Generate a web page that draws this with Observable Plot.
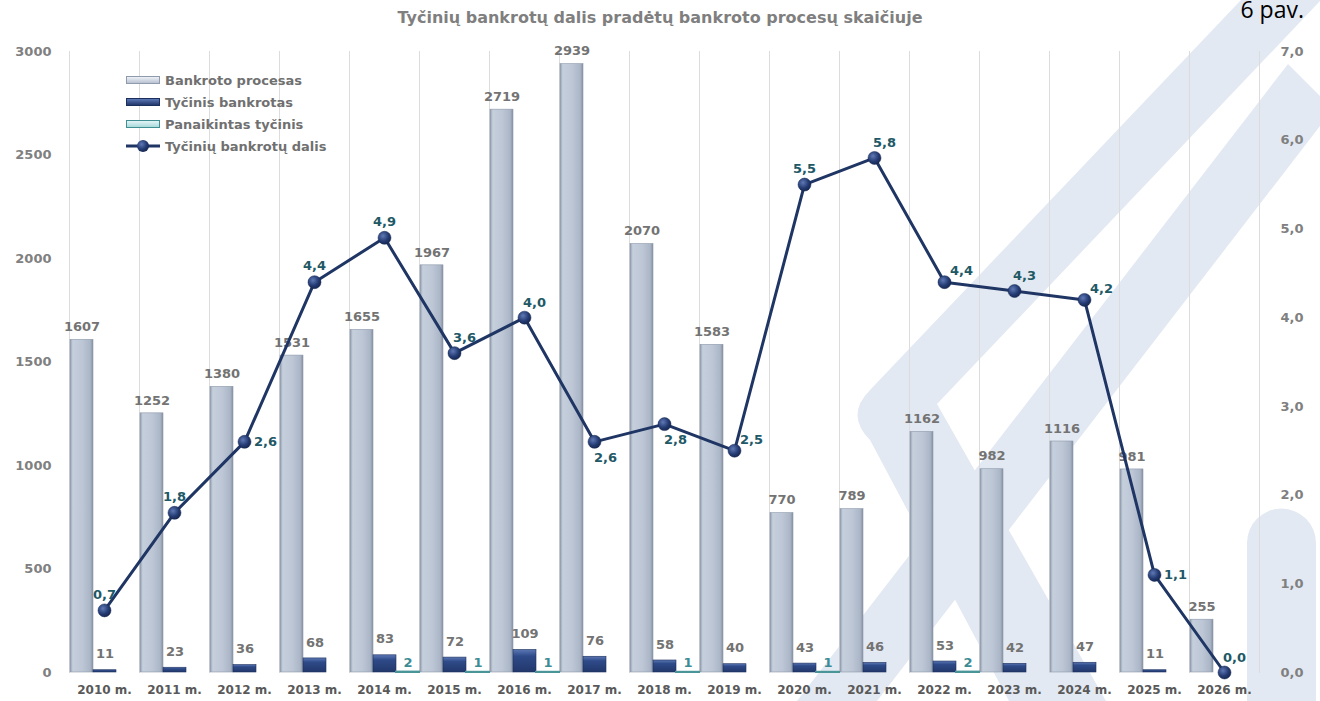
<!DOCTYPE html>
<html><head><meta charset="utf-8">
<script src="https://cdn.jsdelivr.net/npm/d3@7"></script>
<script src="https://cdn.jsdelivr.net/npm/@observablehq/plot@0.6"></script>
<style>
html,body{margin:0;padding:0;background:#fff;}
body{width:1320px;height:701px;overflow:hidden;position:relative;font-family:"DejaVu Sans",Verdana,sans-serif;}
#wm{position:absolute;left:0;top:0;z-index:0;}
#title{position:relative;z-index:3;height:30px;line-height:36px;text-align:center;font-weight:bold;font-size:16px;color:#7f7f7f;}
#pav{position:absolute;right:16px;top:-3px;z-index:4;font-family:"Open Sans",sans-serif;font-size:23px;line-height:24px;color:#000;}
.layer{position:absolute;left:0;top:30px;}
#bars{z-index:1}
#line{z-index:2}
#legend{position:absolute;left:126px;top:69px;z-index:3;font-size:13px;font-weight:bold;color:#707070;}
#legend .li{height:22px;display:flex;align-items:center;}
#legend .sw{display:inline-block;width:34px;height:8px;margin-right:5px;box-sizing:border-box;}
</style></head>
<body>
<svg width="0" height="0" style="position:absolute">
  <defs>
    <linearGradient id="gGray" x1="0" x2="1" y1="0" y2="0">
      <stop offset="0%" stop-color="#8f9bad"/>
      <stop offset="12%" stop-color="#c6cfdc"/>
      <stop offset="55%" stop-color="#bcc6d5"/>
      <stop offset="88%" stop-color="#aab5c6"/>
      <stop offset="100%" stop-color="#838fa2"/>
    </linearGradient>
    <linearGradient id="gNavy" x1="0" x2="0" y1="0" y2="1">
      <stop offset="0%" stop-color="#5c78b5"/>
      <stop offset="30%" stop-color="#2e4a88"/>
      <stop offset="100%" stop-color="#22386c"/>
    </linearGradient>
    <radialGradient id="gDot" cx="0.38" cy="0.35" r="0.7">
      <stop offset="0%" stop-color="#6079b5"/>
      <stop offset="60%" stop-color="#243b73"/>
      <stop offset="100%" stop-color="#15264f"/>
    </radialGradient>
  </defs>
</svg>
<svg id="wm" width="1320" height="701">
  <g fill="#e3e9f2">
    <polygon points="797,701 1288,64 1320,96 1320,126 877,701"/>
    <path d="M1241,0 L1321,0 L937,404 L1106,701 L1009,701 L870,440 Q845,415 870,390 Z"/>
    <path d="M1247,701 L1247,543 A34.5,34.5 0 0 1 1316,543 L1316,701 Z"/>
  </g>
</svg>
<div id="title">Tyčinių bankrotų dalis pradėtų bankroto procesų skaičiuje</div>
<div id="pav">6 pav.</div>
<div id="bars" class="layer"></div>
<div id="line" class="layer"></div>
<div id="legend">
  <div class="li"><span class="sw" style="background:linear-gradient(#eef1f6,#b9c3d2);border:1px solid #8f9bad"></span>Bankroto procesas</div>
  <div class="li"><span class="sw" style="background:linear-gradient(#5c78b5,#22386c);border:1px solid #1c2f5c"></span>Tyčinis bankrotas</div>
  <div class="li"><span class="sw" style="background:linear-gradient(#e4f4f5,#a9dadd);border:1px solid #3f8f93"></span>Panaikintas tyčinis</div>
  <div class="li"><svg width="34" height="14" style="margin-right:5px"><line x1="0" x2="34" y1="7" y2="7" stroke="#1f3564" stroke-width="3"/><circle cx="17" cy="7" r="6" fill="url(#gDot)"/></svg>Tyčinių bankrotų dalis</div>
</div>
<script>
const years = [2010, 2011, 2012, 2013, 2014, 2015, 2016, 2017, 2018, 2019, 2020, 2021, 2022, 2023, 2024, 2025, 2026];
const procesas = [1607, 1252, 1380, 1531, 1655, 1967, 2719, 2939, 2070, 1583, 770, 789, 1162, 982, 1116, 981, 255];
const tycinis = [11, 23, 36, 68, 83, 72, 109, 76, 58, 40, 43, 46, 53, 42, 47, 11, null];
const panaikintas = [null, null, null, null, 2, 1, 1, null, 1, null, 1, null, 2, null, null, null, null];
const dalis = [0.7, 1.8, 2.6, 4.4, 4.9, 3.6, 4.0, 2.6, 2.8, 2.5, 5.5, 5.8, 4.4, 4.3, 4.2, 1.1, 0.0];
const barSeries = ["Bankroto procesas", "Tyčinis bankrotas", "Panaikintas tyčinis"];
const leftTicks = [0, 500, 1000, 1500, 2000, 2500, 3000];
const rightTicks = [0, 1, 2, 3, 4, 5, 6, 7];
// label placement style for the share line (not data)
const dalisLabelSide = ["top","top","right","top","top","topRight","topRight","bottomRight","bottomRight","upRight","top","topRight","upRight","topRight","upRight","right","topRight"];
const sideOffsets = {top:[0,-16], topRight:[10,-15], upRight:[17,-11], right:[21,0], bottomRight:[11,16]};

const rows = years.flatMap((yr, i) => [
  {year: yr, series: barSeries[0], value: procesas[i]},
  {year: yr, series: barSeries[1], value: tycinis[i]},
  {year: yr, series: barSeries[2], value: panaikintas[i]}
]).filter(d => d.value != null);
const gray = rows.filter(d => d.series === barSeries[0]);
const navy = rows.filter(d => d.series === barSeries[1]);
const teal = rows.filter(d => d.series === barSeries[2]);

const W = 1320, H = 671;
const M = {marginLeft: 65, marginRight: 58, marginTop: 21, marginBottom: 29};
const fmtComma = d => d.toFixed(1).replace(".", ",");
const svgStyle = {background: "transparent", overflow: "visible", fontFamily: "'DejaVu Sans', Verdana, sans-serif", fontSize: "13px"};
const txt = {fontSize: 13, fontWeight: "bold"};

const barsPlot = Plot.plot({
  width: W, height: H, ...M,
  style: svgStyle,
  fx: {domain: years, padding: 0, axis: null, label: null},
  x: {domain: barSeries, padding: 0, axis: null},
  y: {domain: [0, 3000], axis: null},
  marks: [
    Plot.frame({anchor: "left", stroke: "#dcdcdc", strokeWidth: 1}),
    Plot.frame({anchor: "right", stroke: "#dcdcdc", strokeWidth: 1}),
    Plot.barY(gray, {fx: "year", x: "series", y: "value", fill: "url(#gGray)", stroke: "#8d99ab", strokeWidth: 0.6}),
    Plot.barY(navy, {fx: "year", x: "series", y: "value", fill: "url(#gNavy)", stroke: "#1c2f5c", strokeWidth: 0.6}),
    Plot.barY(teal, {fx: "year", x: "series", y: "value", fill: "#a9dadd", stroke: "#4a9598", strokeWidth: 2}),
    Plot.text(gray, {fx: "year", x: "series", y: "value", text: d => String(d.value), dy: -13, ...txt, fill: "#737373"}),
    Plot.text(navy, {fx: "year", x: "series", y: "value", text: d => String(d.value), dy: -16, ...txt, fill: "#737373"}),
    Plot.text(teal, {fx: "year", x: "series", y: "value", text: d => String(d.value), dy: -9, ...txt, fill: "#3e8c94"}),
    // category (fx) tick labels
    Plot.text(years, {fx: d => d, frameAnchor: "bottom", lineAnchor: "top", dy: 13, text: d => `${d} m.`, fontSize: 12, fontWeight: "bold", fill: "#595959"}),
    // left value-axis tick labels, drawn in the first facet only
    Plot.text(leftTicks, {fx: () => years[0], y: d => d, frameAnchor: "left", textAnchor: "end", dx: -18, text: d => String(d), ...txt, fill: "#808080"})
  ]
});
document.getElementById("bars").appendChild(barsPlot);

const pts = years.map((yr, i) => ({year: yr, v: dalis[i], side: dalisLabelSide[i]}));
const labelMarks = Object.entries(sideOffsets).map(([side, [dx, dy]]) =>
  Plot.text(pts.filter(d => d.side === side), {x: "year", y: "v", text: d => fmtComma(d.v), dx, dy, ...txt, fill: "#215866"})
);
const linePlot = Plot.plot({
  width: W, height: H, ...M,
  style: svgStyle,
  x: {type: "band", domain: years, padding: 0, axis: null},
  y: {domain: [0, 7], axis: null},
  marks: [
    Plot.text(rightTicks, {y: d => d, frameAnchor: "right", textAnchor: "start", dx: 18, text: fmtComma, ...txt, fill: "#808080"}),
    Plot.line(pts, {x: "year", y: "v", stroke: "#1f3564", strokeWidth: 3}),
    Plot.dot(pts, {x: "year", y: "v", r: 6.5, fill: "url(#gDot)", stroke: "#152650", strokeWidth: 0.5}),
    ...labelMarks
  ]
});
document.getElementById("line").appendChild(linePlot);
</script>
</body></html>
